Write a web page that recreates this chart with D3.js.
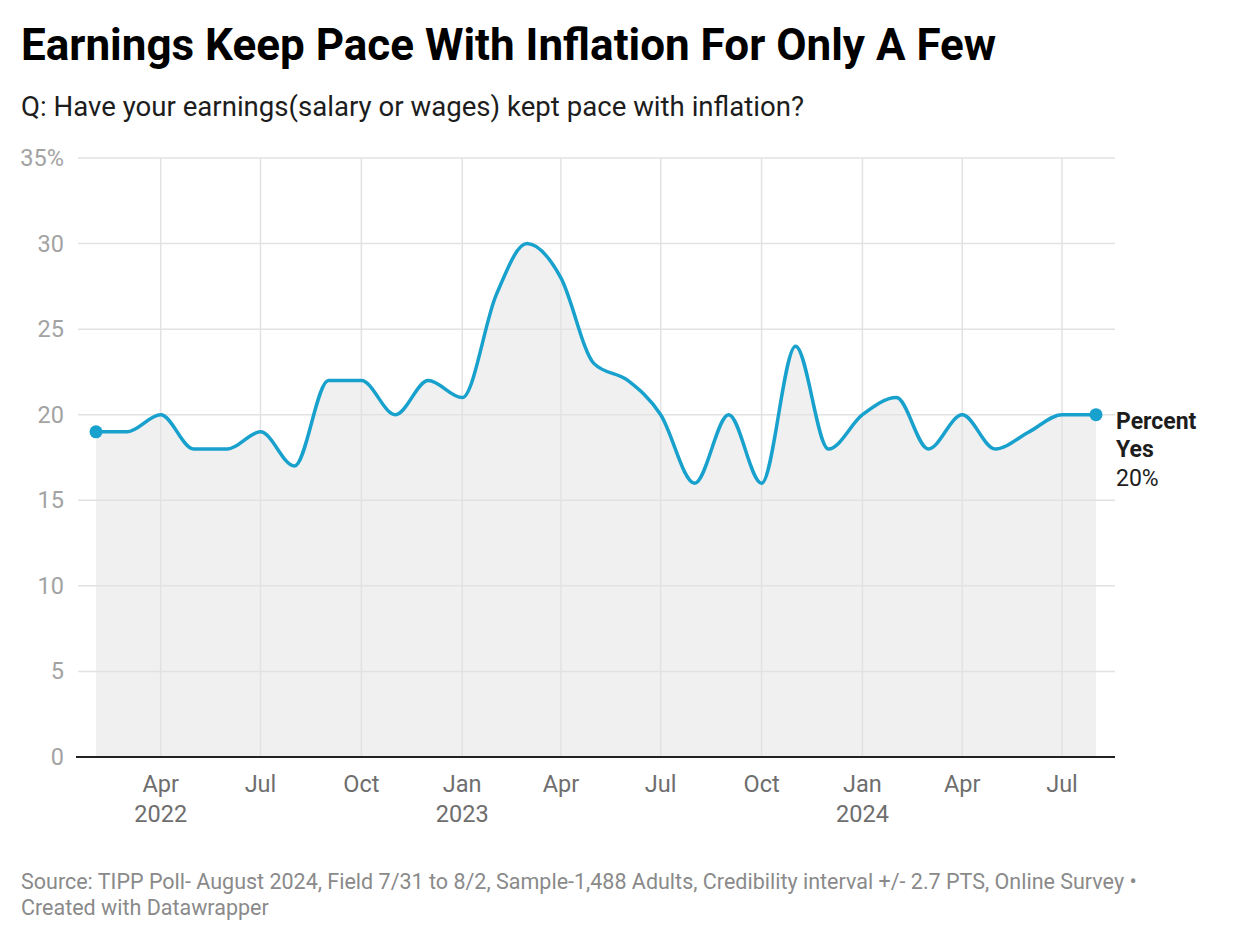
<!DOCTYPE html>
<html>
<head>
<meta charset="utf-8">
<script src="https://cdn.jsdelivr.net/npm/d3@7"></script>
<style>
  body { margin: 0; background: #fff; }
  svg { font-family: Roboto, "Noto Sans", sans-serif; }
</style>
</head>
<body>
<svg id="chart" width="1240" height="940"></svg>
<script>
// ---- Data ----
const months = [
  "2022-02","2022-03","2022-04","2022-05","2022-06","2022-07","2022-08","2022-09","2022-10","2022-11","2022-12",
  "2023-01","2023-02","2023-03","2023-04","2023-05","2023-06","2023-07","2023-08","2023-09","2023-10","2023-11","2023-12",
  "2024-01","2024-02","2024-03","2024-04","2024-05","2024-06","2024-07","2024-08"
];
const percentYes = [
  19,19,20,18,18,19,17,22,22,20,22,
  21,27,30,28,23,22,20,16,20,16,24,18,
  20,21,18,20,18,19,20,20
];
const yTicks = [0,5,10,15,20,25,30,35];
const xTickMonths = ["2022-04","2022-07","2022-10","2023-01","2023-04","2023-07","2023-10","2024-01","2024-04","2024-07"];
const monthNames = ["Jan","Feb","Mar","Apr","May","Jun","Jul","Aug","Sep","Oct","Nov","Dec"];

const title = "Earnings Keep Pace With Inflation For Only A Few";
const subtitle = "Q: Have your earnings(salary or wages) kept pace with inflation?";
const sourceLine1 = "Source: TIPP Poll- August 2024, Field 7/31 to 8/2, Sample-1,488 Adults, Credibility interval +/- 2.7 PTS, Online Survey •";
const sourceLine2 = "Created with Datawrapper";
const seriesName = ["Percent", "Yes"];

// ---- Setup ----
const parse = d3.timeParse("%Y-%m");
const data = months.map((m, i) => ({ date: parse(m), value: percentYes[i] }));

const svg = d3.select("#chart");
const gridLeft = 78, gridRight = 1115;
const x = d3.scaleTime()
  .domain([data[0].date, data[data.length - 1].date])
  .range([96, 1096]);
const y = d3.scaleLinear().domain([0, 35]).range([757, 158]);

// Title & subtitle
svg.append("text").attr("x", 21).attr("y", 60)
  .attr("font-size", 44).attr("font-weight", 700).attr("fill", "#000")
  .text(title);
svg.append("text").attr("x", 21).attr("y", 116)
  .attr("font-size", 27.6).attr("fill", "#1d1d1d")
  .text(subtitle);

// Area
const area = d3.area()
  .x(d => x(d.date)).y0(y(0)).y1(d => y(d.value))
  .curve(d3.curveMonotoneX);
svg.append("path").datum(data).attr("d", area).attr("fill", "#f0f0f0");

// Horizontal grid
svg.append("g").selectAll("line").data(yTicks.filter(t => t > 0)).join("line")
  .attr("x1", gridLeft).attr("x2", gridRight)
  .attr("y1", d => y(d)).attr("y2", d => y(d))
  .attr("stroke", "#e2e2e2").attr("stroke-width", 1.5);

// Vertical grid
const xTickDates = xTickMonths.map(parse);
svg.append("g").selectAll("line").data(xTickDates).join("line")
  .attr("x1", d => x(d)).attr("x2", d => x(d))
  .attr("y1", y(35)).attr("y2", y(0))
  .attr("stroke", "#e2e2e2").attr("stroke-width", 1.5);

// Baseline
svg.append("line").attr("x1", 76).attr("x2", gridRight)
  .attr("y1", y(0)).attr("y2", y(0))
  .attr("stroke", "#222").attr("stroke-width", 2);

// Y tick labels
svg.append("g").selectAll("text").data(yTicks).join("text")
  .attr("x", 64).attr("y", d => y(d) + 8)
  .attr("text-anchor", "end").attr("font-size", 23.5).attr("fill", "#a3a3a3")
  .text(d => d === 35 ? d + "%" : d);

// X tick labels
const xl = svg.append("g").selectAll("g").data(xTickDates).join("g");
xl.append("text")
  .attr("x", d => x(d)).attr("y", 792)
  .attr("text-anchor", "middle").attr("font-size", 23.5).attr("fill", "#6e6e6e")
  .text(d => monthNames[d.getMonth()]);
xl.filter(d => d.getMonth() === 3 && d.getFullYear() === 2022 || d.getMonth() === 0)
  .append("text")
  .attr("x", d => x(d)).attr("y", 822)
  .attr("text-anchor", "middle").attr("font-size", 23.5).attr("fill", "#6e6e6e")
  .text(d => d.getFullYear());

// Line
const line = d3.line().x(d => x(d.date)).y(d => y(d.value)).curve(d3.curveMonotoneX);
svg.append("path").datum(data).attr("d", line)
  .attr("fill", "none").attr("stroke", "#18a1cd").attr("stroke-width", 3.5)
  .attr("stroke-linejoin", "round").attr("stroke-linecap", "round");

// End dots
const ends = [data[0], data[data.length - 1]];
svg.append("g").selectAll("circle").data(ends).join("circle")
  .attr("cx", d => x(d.date)).attr("cy", d => y(d.value)).attr("r", 6.5)
  .attr("fill", "#18a1cd");

// Series label
const last = data[data.length - 1];
const lx = x(last.date) + 20, ly = y(last.value);
svg.append("text").attr("x", lx).attr("y", ly + 14)
  .attr("font-size", 23).attr("font-weight", 700).attr("fill", "#1d1d1d").text(seriesName[0]);
svg.append("text").attr("x", lx).attr("y", ly + 42)
  .attr("font-size", 23).attr("font-weight", 700).attr("fill", "#1d1d1d").text(seriesName[1]);
svg.append("text").attr("x", lx).attr("y", ly + 71)
  .attr("font-size", 23).attr("fill", "#1d1d1d").text(last.value + "%");

// Footer
svg.append("text").attr("x", 21).attr("y", 889)
  .attr("font-size", 21.5).attr("fill", "#8a8a8a").text(sourceLine1);
svg.append("text").attr("x", 21).attr("y", 915)
  .attr("font-size", 21.5).attr("fill", "#8a8a8a").text(sourceLine2);
</script>
</body>
</html>
